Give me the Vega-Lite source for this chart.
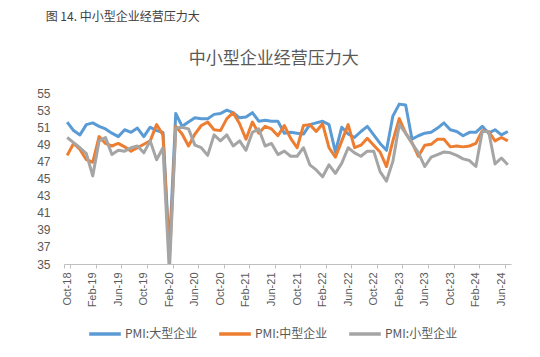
{
  "$schema": "https://vega.github.io/schema/vega-lite/v6.json",
  "background": "white",
  "padding": {"left": 36, "top": 11, "right": 20, "bottom": 5},
  "title": {"text": "图 14.  中小型企业经营压力大", "anchor": "start", "frame": "bounds", "fontSize": 12, "font": "Noto Sans CJK SC", "fontWeight": "normal", "color": "#404040", "offset": 26, "dx": 9},
  "config": {"view": {"stroke": null}, "font": "Liberation Sans"},
  "vconcat": [
    {
      "width": 447,
      "height": 171,
      "title": {"text": "中小型企业经营压力大", "anchor": "middle", "frame": "bounds", "fontSize": 17, "font": "Noto Sans CJK SC", "fontWeight": "normal", "color": "#595959", "offset": 19},
      "data": {"values": [
        {"m": "Oct-18", "大型": 51.6, "中型": 47.7, "小型": 49.8},
        {"m": "Nov-18", "大型": 50.6, "中型": 49.1, "小型": 49.2},
        {"m": "Dec-18", "大型": 50.1, "中型": 48.4, "小型": 48.6},
        {"m": "Jan-19", "大型": 51.3, "中型": 47.2, "小型": 47.9},
        {"m": "Feb-19", "大型": 51.5, "中型": 46.9, "小型": 45.3},
        {"m": "Mar-19", "大型": 51.1, "中型": 49.9, "小型": 49.4},
        {"m": "Apr-19", "大型": 50.8, "中型": 49.1, "小型": 49.8},
        {"m": "May-19", "大型": 50.3, "中型": 48.8, "小型": 47.8},
        {"m": "Jun-19", "大型": 49.9, "中型": 49.1, "小型": 48.3},
        {"m": "Jul-19", "大型": 50.7, "中型": 48.7, "小型": 48.2},
        {"m": "Aug-19", "大型": 50.4, "中型": 48.2, "小型": 48.6},
        {"m": "Sep-19", "大型": 50.9, "中型": 48.6, "小型": 48.8},
        {"m": "Oct-19", "大型": 49.9, "中型": 49.0, "小型": 48.0},
        {"m": "Nov-19", "大型": 51.0, "中型": 49.4, "小型": 49.4},
        {"m": "Dec-19", "大型": 50.6, "中型": 51.3, "小型": 47.2},
        {"m": "Jan-20", "大型": 50.4, "中型": 50.1, "小型": 48.6},
        {"m": "Feb-20", "大型": 36.5, "中型": 35.5, "小型": 34.1},
        {"m": "Mar-20", "大型": 52.6, "中型": 51.1, "小型": 50.9},
        {"m": "Apr-20", "大型": 51.1, "中型": 50.2, "小型": 51.0},
        {"m": "May-20", "大型": 51.6, "中型": 48.8, "小型": 50.8},
        {"m": "Jun-20", "大型": 52.1, "中型": 50.2, "小型": 48.9},
        {"m": "Jul-20", "大型": 52.0, "中型": 51.2, "小型": 48.6},
        {"m": "Aug-20", "大型": 52.0, "中型": 51.6, "小型": 47.7},
        {"m": "Sep-20", "大型": 52.5, "中型": 50.7, "小型": 50.1},
        {"m": "Oct-20", "大型": 52.6, "中型": 50.6, "小型": 49.4},
        {"m": "Nov-20", "大型": 53.0, "中型": 52.0, "小型": 50.1},
        {"m": "Dec-20", "大型": 52.7, "中型": 52.7, "小型": 48.8},
        {"m": "Jan-21", "大型": 52.1, "中型": 51.4, "小型": 49.4},
        {"m": "Feb-21", "大型": 52.2, "中型": 49.6, "小型": 48.3},
        {"m": "Mar-21", "大型": 52.7, "中型": 51.6, "小型": 50.4},
        {"m": "Apr-21", "大型": 51.7, "中型": 50.3, "小型": 50.8},
        {"m": "May-21", "大型": 51.8, "中型": 51.1, "小型": 48.8},
        {"m": "Jun-21", "大型": 51.7, "中型": 50.8, "小型": 49.1},
        {"m": "Jul-21", "大型": 51.7, "中型": 50.0, "小型": 47.8},
        {"m": "Aug-21", "大型": 50.3, "中型": 51.2, "小型": 48.2},
        {"m": "Sep-21", "大型": 50.4, "中型": 49.7, "小型": 47.6},
        {"m": "Oct-21", "大型": 50.3, "中型": 48.6, "小型": 47.6},
        {"m": "Nov-21", "大型": 50.2, "中型": 51.2, "小型": 48.6},
        {"m": "Dec-21", "大型": 51.3, "中型": 51.3, "小型": 46.6},
        {"m": "Jan-22", "大型": 51.5, "中型": 50.5, "小型": 46.0},
        {"m": "Feb-22", "大型": 51.7, "中型": 51.4, "小型": 45.2},
        {"m": "Mar-22", "大型": 51.3, "中型": 48.6, "小型": 46.6},
        {"m": "Apr-22", "大型": 48.1, "中型": 47.5, "小型": 45.6},
        {"m": "May-22", "大型": 51.0, "中型": 49.4, "小型": 46.8},
        {"m": "Jun-22", "大型": 50.2, "中型": 51.3, "小型": 48.6},
        {"m": "Jul-22", "大型": 49.8, "中型": 48.6, "小型": 48.0},
        {"m": "Aug-22", "大型": 50.5, "中型": 48.9, "小型": 47.6},
        {"m": "Sep-22", "大型": 51.1, "中型": 49.7, "小型": 48.2},
        {"m": "Oct-22", "大型": 50.1, "中型": 48.9, "小型": 48.2},
        {"m": "Nov-22", "大型": 49.1, "中型": 48.1, "小型": 45.8},
        {"m": "Dec-22", "大型": 48.3, "中型": 46.4, "小型": 44.7},
        {"m": "Jan-23", "大型": 52.3, "中型": 49.4, "小型": 47.0},
        {"m": "Feb-23", "大型": 53.7, "中型": 52.0, "小型": 51.3},
        {"m": "Mar-23", "大型": 53.6, "中型": 50.3, "小型": 50.3},
        {"m": "Apr-23", "大型": 49.6, "中型": 49.2, "小型": 49.1},
        {"m": "May-23", "大型": 50.0, "中型": 47.6, "小型": 48.0},
        {"m": "Jun-23", "大型": 50.3, "中型": 48.9, "小型": 46.4},
        {"m": "Jul-23", "大型": 50.4, "中型": 49.0, "小型": 47.5},
        {"m": "Aug-23", "大型": 50.9, "中型": 49.6, "小型": 47.8},
        {"m": "Sep-23", "大型": 51.5, "中型": 49.6, "小型": 48.1},
        {"m": "Oct-23", "大型": 50.7, "中型": 48.7, "小型": 48.0},
        {"m": "Nov-23", "大型": 50.5, "中型": 48.8, "小型": 47.7},
        {"m": "Dec-23", "大型": 50.0, "中型": 48.7, "小型": 47.3},
        {"m": "Jan-24", "大型": 50.4, "中型": 48.8, "小型": 47.1},
        {"m": "Feb-24", "大型": 50.4, "中型": 49.1, "小型": 46.4},
        {"m": "Mar-24", "大型": 51.1, "中型": 50.6, "小型": 50.5},
        {"m": "Apr-24", "大型": 50.3, "中型": 50.5, "小型": 50.5},
        {"m": "May-24", "大型": 50.7, "中型": 49.4, "小型": 46.7},
        {"m": "Jun-24", "大型": 50.1, "中型": 49.8, "小型": 47.4},
        {"m": "Jul-24", "大型": 50.5, "中型": 49.4, "小型": 46.6}
      ]},
      "transform": [{"fold": ["大型", "中型", "小型"], "as": ["s", "v"]}],
      "mark": {"type": "line", "strokeWidth": 3, "clip": true, "strokeJoin": "round"},
      "encoding": {
        "x": {
          "field": "m", "type": "ordinal", "sort": null,
          "scale": {"type": "band", "paddingInner": 0, "paddingOuter": 0},
          "axis": {
            "title": null,
            "values": ["Oct-18", "Feb-19", "Jun-19", "Oct-19", "Feb-20", "Jun-20", "Oct-20", "Feb-21", "Jun-21", "Oct-21", "Feb-22", "Jun-22", "Oct-22", "Feb-23", "Jun-23", "Oct-23", "Feb-24", "Jun-24"],
            "labelAngle": -90, "labelAlign": "right", "labelBaseline": "middle",
            "labelFontSize": 11, "labelColor": "#595959", "labelPadding": 4,
            "domainColor": "#BFBFBF", "domainWidth": 1,
            "tickColor": "#BFBFBF", "tickSize": 4, "tickBand": "extent",
            "grid": false
          }
        },
        "y": {
          "field": "v", "type": "quantitative",
          "scale": {"domain": [35, 55], "nice": false, "zero": false},
          "axis": {
            "title": null, "values": [35, 37, 39, 41, 43, 45, 47, 49, 51, 53, 55],
            "grid": false, "domain": false, "ticks": false,
            "labelFontSize": 12, "labelColor": "#595959", "labelPadding": 14
          }
        },
        "color": {
          "field": "s", "type": "nominal",
          "scale": {"domain": ["大型", "中型", "小型"], "range": ["#5B9BD5", "#ED7D31", "#A5A5A5"]},
          "legend": {
            "title": null, "orient": "none", "legendX": 23, "legendY": 223, "direction": "horizontal",
            "symbolType": "stroke", "symbolSize": 1000, "symbolStrokeWidth": 3.5,
            "labelExpr": "'PMI:' + datum.label + '企业'",
            "labelFont": "Noto Sans CJK SC", "labelFontSize": 12, "labelColor": "#595959",
            "labelOffset": 2, "columnPadding": 14
          }
        }
      }
    }
  ]
}
